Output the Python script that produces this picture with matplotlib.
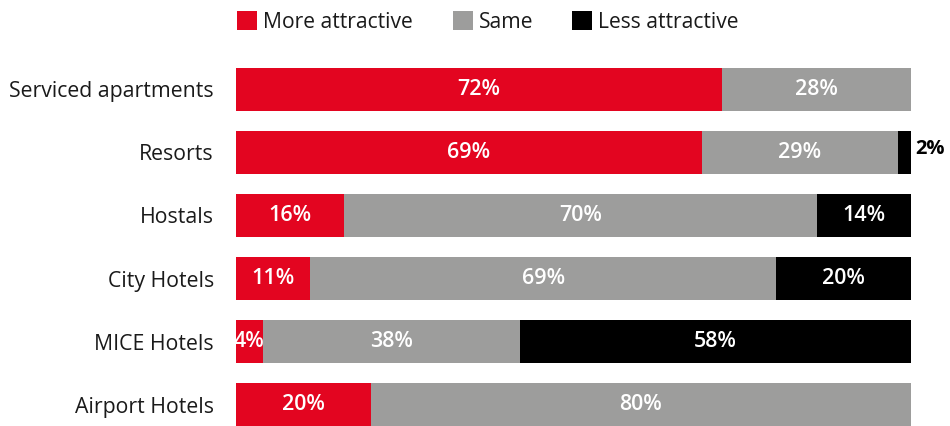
import matplotlib
matplotlib.use("Agg")
import matplotlib.pyplot as plt
from matplotlib.patches import Rectangle
import numpy as np

plt.rcParams['font.family'] = ['Open Sans', 'DejaVu Sans']

categories = ["Serviced apartments", "Resorts", "Hostals", "City Hotels", "MICE Hotels", "Airport Hotels"]
more_attractive = [72, 69, 16, 11, 4, 20]
same = [28, 29, 70, 69, 38, 80]
less_attractive = [0, 2, 14, 20, 58, 0]
series_names = ["More attractive", "Same", "Less attractive"]
colors = ["#E30520", "#9D9D9C", "#000000"]

W, H = 950, 426
fig = plt.figure(figsize=(W / 100, H / 100), dpi=100)
ax = fig.add_axes([236 / W, 0, 675 / W, 358 / H])

y = np.arange(len(categories))
bh = 0.68
left = np.zeros(len(categories))
for vals, col in zip([more_attractive, same, less_attractive], colors):
    vals = np.array(vals, dtype=float)
    ax.barh(y, vals, left=left, height=bh, color=col, edgecolor='none')
    for yi, (l, v) in enumerate(zip(left, vals)):
        if v <= 0:
            continue
        if v >= 4:
            ax.text(l + v / 2, yi, f"{int(v)}%", ha='center', va='center',
                    color='white', fontsize=15.5, fontweight='semibold')
        else:
            ax.text(l + v + 0.7, yi - 0.05, f"{int(v)}%", ha='left', va='center',
                    color='black', fontsize=14.5, fontweight='bold')
    left += vals

ax.set_xlim(0, 100)
ax.set_ylim(len(categories) - 1 + bh / 2, -bh / 2)
ax.set_yticks(y)
ax.set_yticklabels(categories, fontsize=15.3, color='#1a1a1a')
ax.tick_params(axis='y', length=0, pad=16)
ax.set_xticks([])
for s in ax.spines.values():
    s.set_visible(False)

# legend
leg_x = [237, 453, 572]
for lx, name, col in zip(leg_x, series_names, colors):
    fig.add_artist(Rectangle((lx / W, 1 - 30 / H), 20 / W, 19 / H,
                             transform=fig.transFigure, color=col, lw=0))
    fig.text((lx + 26) / W, 1 - 23 / H, name, ha='left', va='center',
             fontsize=15.2, color='#1a1a1a')

fig.savefig("out.png", dpi=100)
